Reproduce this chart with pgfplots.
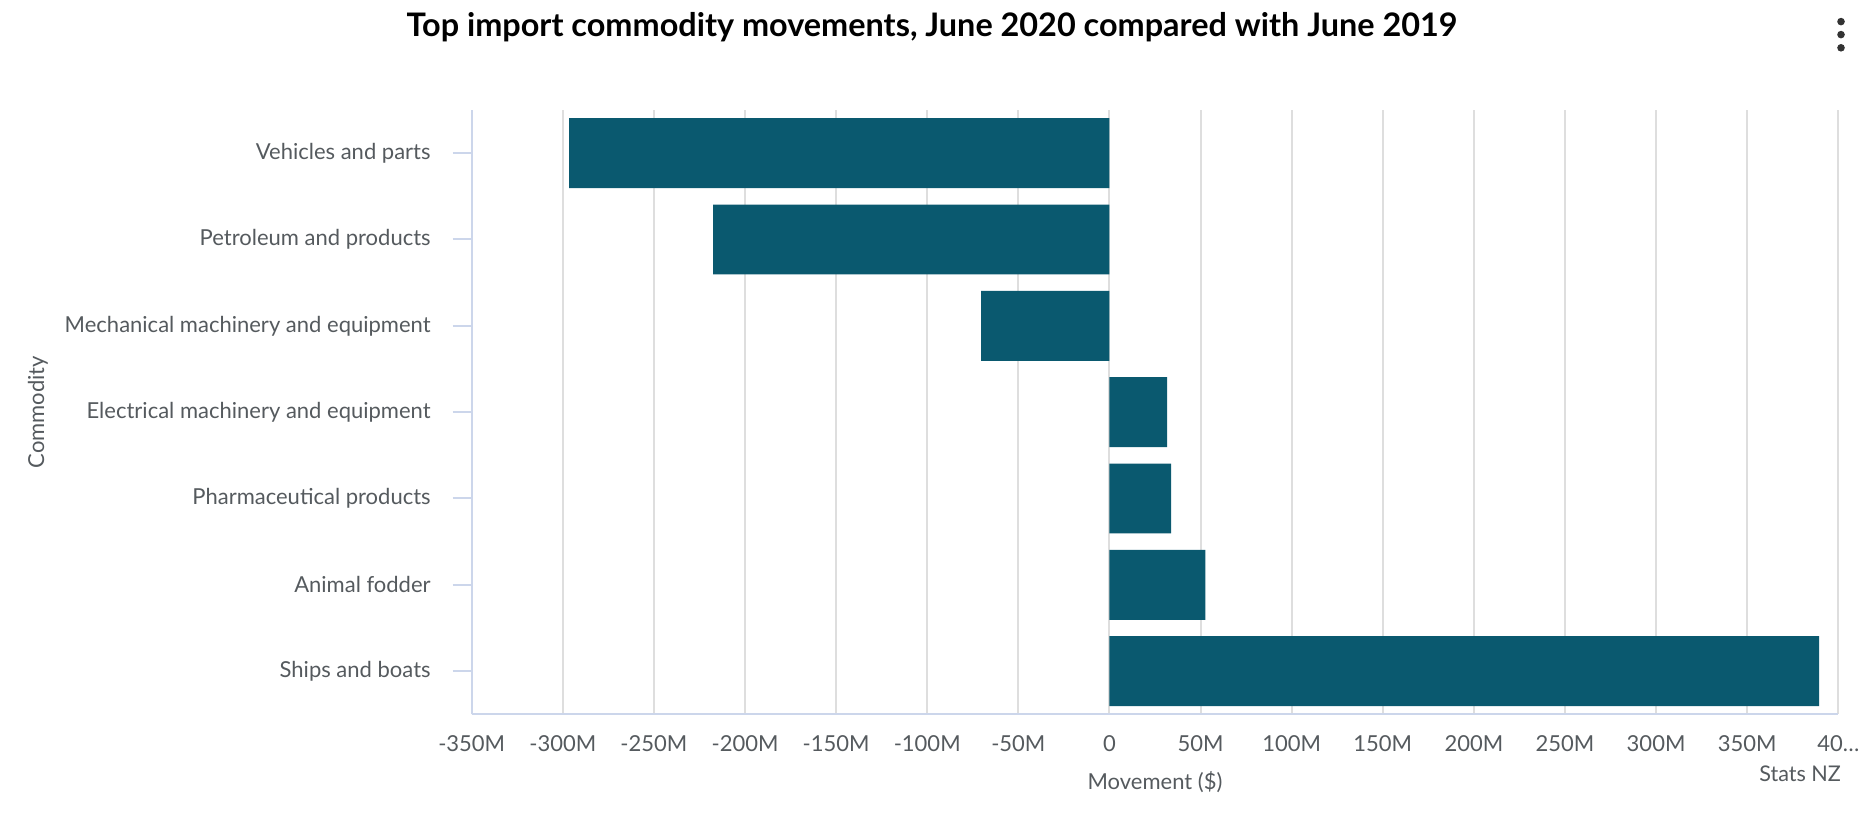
\documentclass[border=0pt]{standalone}
\usepackage{fontspec}
\setmainfont{Lato}
\usepackage{pgfplots}
\pgfplotsset{compat=1.18}
\definecolor{barcol}{HTML}{0A596F}
\definecolor{axcol}{HTML}{CCD6EB}
\definecolor{gridcol}{HTML}{DEDEDE}
\definecolor{txtcol}{HTML}{555A5E}

\begin{document}
\begin{tikzpicture}
\path[use as bounding box] (0,0) rectangle (932pt,410pt);
\node[font=\fontsize{16.2}{19}\selectfont\bfseries] at (466pt,396.5pt)
  {Top import commodity movements, June 2020 compared with June 2019};
\foreach \yy in {399.2,392.7,386.1}
  \fill[black!80] (920.5pt,\yy pt) circle (1.9pt);
\begin{axis}[
  at={(235.85pt,52.85pt)}, anchor=south west,
  width=683.3pt, height=302.15pt, scale only axis,
  xbar, bar width=0.81,
  xmin=-350, xmax=400,
  ymin=-0.5, ymax=6.5,
  axis x line*=bottom, axis y line*=left,
  axis line style={axcol, line width=1pt},
  xtick={-350,-300,...,400},
  xticklabels={-350M,-300M,-250M,-200M,-150M,-100M,-50M,0,50M,100M,150M,200M,250M,300M,350M,40…},
  ytick={0,...,6},
  yticklabels={Ships and boats,Animal fodder,Pharmaceutical products,Electrical machinery and equipment,Mechanical machinery and equipment,Petroleum and products,Vehicles and parts},
  xmajorgrids, grid style={gridcol, line width=1pt},
  xtick style={draw=none},
  ytick style={axcol, line width=1pt},
  tick align=outside, major tick length=9.5pt,
  ticklabel style={font=\fontsize{11}{13}\selectfont, text=txtcol},
  xticklabel style={anchor=center, yshift=-5.2pt},
  yticklabel style={anchor=east, xshift=-7.5pt},
  xlabel={Movement (\$)},
  xlabel style={at={(axis description cs:0.5,-0.112)}, anchor=center, font=\fontsize{11}{13}\selectfont, text=txtcol},
  ylabel={Commodity},
  ylabel style={at={(axis description cs:-0.3174,0.5)}, anchor=center, font=\fontsize{11}{13}\selectfont, text=txtcol},
]
\addplot[fill=barcol, draw=none] coordinates {
  (389.5,0) (52.6,1) (33.8,2) (31.7,3) (-70.4,4) (-217.5,5) (-296.5,6)
};
\end{axis}
\node[anchor=east, font=\fontsize{10.8}{12}\selectfont, text=txtcol] at (924pt,23pt) {Stats NZ};
\end{tikzpicture}
\end{document}
